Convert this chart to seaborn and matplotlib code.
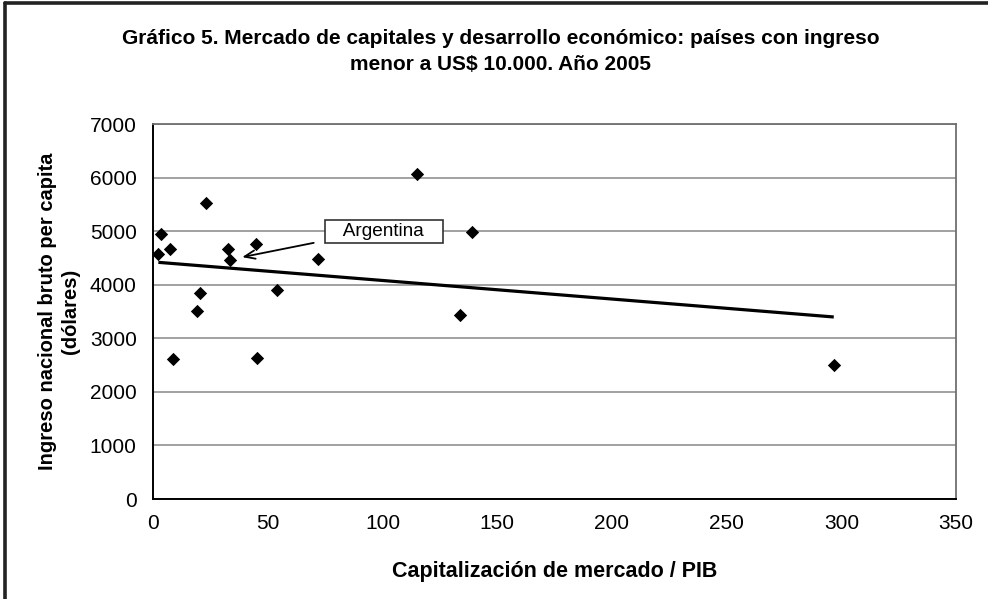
import matplotlib
matplotlib.use("Agg")
import matplotlib.pyplot as plt
import seaborn as sns
import pandas as pd
from matplotlib.lines import Line2D

# Market capitalisation / GDP (%) and GNI per capita (US$), 2005
cap_pib = [2.2, 3.4, 7.3, 8.5, 18.9, 20.5, 22.8, 32.7, 33.4, 44.6,
           45.1, 53.8, 71.9, 114.8, 133.7, 138.8, 296.7]
ingreso = [4570, 4950, 4670, 2610, 3510, 3850, 5530, 4660, 4470, 4770,
           2640, 3910, 4490, 6060, 3430, 4990, 2500]
argentina_idx = 8

x_ticks = [0, 50, 100, 150, 200, 250, 300, 350]
y_ticks = [0, 1000, 2000, 3000, 4000, 5000, 6000, 7000]

titulo = ("Gráfico 5. Mercado de capitales y desarrollo económico: países con ingreso\n"
          "menor a US$ 10.000. Año 2005")
x_label = "Capitalización de mercado / PIB"
y_label = "Ingreso nacional bruto per capita\n(dólares)"

df = pd.DataFrame({"cap": cap_pib, "ing": ingreso})

sns.set_theme(style="white")
plt.rcParams["font.family"] = ["Liberation Sans", "DejaVu Sans"]
plt.rcParams["text.color"] = "black"
plt.rcParams["axes.labelcolor"] = "black"

fig = plt.figure(figsize=(9.88, 5.99), dpi=100)
ax = fig.add_axes([0.1552, 0.1669, 0.8124, 0.6260])

ax.set_xlim(x_ticks[0], x_ticks[-1])
ax.set_ylim(y_ticks[0], y_ticks[-1])
ax.set_xticks(x_ticks)
ax.set_yticks(y_ticks)
ax.yaxis.grid(True, color="#9a9a9a", linewidth=1.3)
ax.set_axisbelow(True)

# linear trend across the observed range
sns.regplot(data=df, x="cap", y="ing", scatter=False, ci=None, ax=ax,
            line_kws=dict(color="black", linewidth=2.3, solid_capstyle="butt"))
sns.scatterplot(data=df, x="cap", y="ing", ax=ax, marker="D", s=46,
                color="black", edgecolor="black", linewidth=0, zorder=4)

ax.set_xlabel(x_label, fontsize=15.5, fontweight="bold", labelpad=20)
ax.set_ylabel(y_label, fontsize=14.5, fontweight="bold", labelpad=7,
              linespacing=1.3)
ax.tick_params(axis="both", labelsize=15, colors="black", direction="out",
               length=6, width=1, pad=5)
ax.tick_params(axis="y", length=7)

for side in ("left", "bottom"):
    ax.spines[side].set_color("black")
    ax.spines[side].set_linewidth(1.4)
for side in ("top", "right"):
    ax.spines[side].set_color("#707070")
    ax.spines[side].set_linewidth(1.3)

ax.annotate("   Argentina   ",
            xy=(cap_pib[argentina_idx], ingreso[argentina_idx]),
            xytext=(0.2874, 0.7136), textcoords="axes fraction",
            ha="center", va="center", fontsize=13.7,
            bbox=dict(boxstyle="square,pad=0.16", fc="white", ec="#333333", lw=1.2),
            arrowprops=dict(arrowstyle="->,head_length=0.55,head_width=0.22",
                            color="black", lw=1.3, relpos=(0, 0),
                            shrinkA=8, shrinkB=9),
            zorder=5)

fig.text(0.507, 0.914, titulo, ha="center", va="center", fontsize=15,
         fontweight="bold", linespacing=1.45)

# outer frame (left and top edges)
fig.add_artist(Line2D([5 / 988, 5 / 988], [0, 1 - 3 / 599], color="#222222",
                      lw=2.6, transform=fig.transFigure))
fig.add_artist(Line2D([5 / 988, 1], [1 - 3 / 599, 1 - 3 / 599], color="#222222",
                      lw=2.6, transform=fig.transFigure))

fig.savefig("out.png", dpi=100)
